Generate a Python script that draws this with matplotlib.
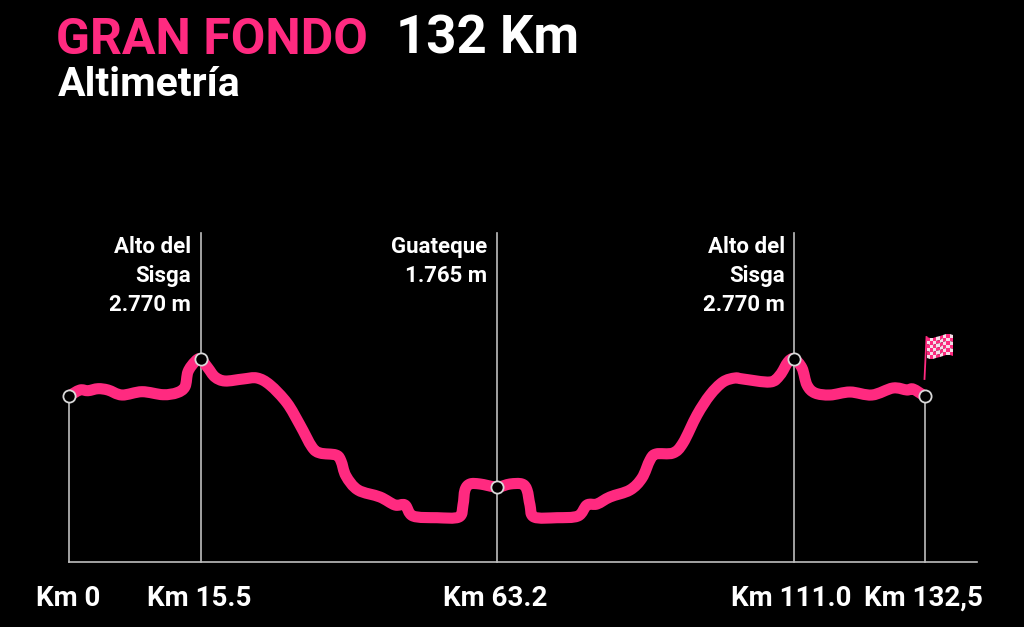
import numpy as np
import matplotlib
matplotlib.use("Agg")
import matplotlib.pyplot as plt
from matplotlib.path import Path
from matplotlib.patches import PathPatch
from matplotlib.colors import ListedColormap

# Profile (schematic horizontal position, vertical picture rows)
profile_x = [69, 80, 88, 98, 108, 122, 142, 163, 177, 185, 188, 195, 200.5, 208, 215, 225, 243, 257, 270, 287, 300,
             312, 320, 336, 341, 346, 358, 380, 395, 405, 413, 437, 459, 463, 465, 470, 480, 497, 510, 522, 527, 530,
             534, 557, 578, 587, 597, 610, 630, 642, 650, 656, 673, 683, 697, 710, 723, 735, 743, 770, 780, 788, 794,
             802, 807, 815, 830, 850, 872, 893, 907, 913, 924.5]
profile_y = [396, 390, 390.7, 388.7, 390, 395, 391.7, 394.7, 392.7, 386.7, 371.7, 361.7, 359, 368, 377, 381, 379, 378,
             385, 403, 425, 447, 453, 455, 461, 476, 490, 497, 505, 505, 516, 517.7, 517, 505, 490, 484, 484, 487, 484,
             484, 490, 505, 517, 517.7, 516, 505, 504, 497, 490, 478, 460, 454, 453, 443, 415, 395, 382, 378, 379, 382,
             375, 362, 359, 368, 385, 393, 395, 392, 395, 388, 390, 389, 396]

marker_x = [69, 200.5, 497, 794, 924.5]
marker_y = [396, 359, 487, 359, 396]
tick_labels = ["Km 0", "Km 15.5", "Km 63.2", "Km 111.0", "Km 132,5"]
tick_label_x = [68, 199, 495, 791, 923]
pass_x = [191, 487, 785]
pass_labels = [["Alto del", "Sisga", "2.770 m"], ["Guateque", "1.765 m"], ["Alto del", "Sisga", "2.770 m"]]
label_rows = [253, 282, 311]

PINK = "#FF2A80"
GREY = "#BEBEBE"
FONT = "Roboto"

fig = plt.figure(figsize=(10.24, 6.27), dpi=100, facecolor="black")
ax = fig.add_axes([0, 0, 1, 1], facecolor="black")
ax.set_xlim(0, 1024)
ax.set_ylim(627, 0)
ax.axis("off")

# guide lines
base = 562
top = 233
ax.plot([69, 977], [base, base], color=GREY, lw=1.2, zorder=1)
for x, y in zip(marker_x, marker_y):
    y0 = top if y != 396 else y
    ax.plot([x, x], [y0, base], color=GREY, lw=1.2, zorder=1)

# smooth profile through the traced points
P = np.column_stack([profile_x, profile_y])
verts = [P[0]]
codes = [Path.MOVETO]
for i in range(len(P) - 1):
    p0 = P[max(i - 1, 0)]
    p1, p2 = P[i], P[i + 1]
    p3 = P[min(i + 2, len(P) - 1)]
    verts += [p1 + (p2 - p0) / 6, p2 - (p3 - p1) / 6, p2]
    codes += [Path.CURVE4] * 3
ax.add_patch(PathPatch(Path(verts, codes), fc="none", ec=PINK, lw=8, capstyle="round",
                       joinstyle="round", zorder=2))

ax.plot(marker_x, marker_y, ls="none", marker="o", ms=8.8, mfc="black", mec="#D8D8D8", mew=1.3, zorder=3)

# finish flag
ax.plot([924.5, 926.5], [379, 337], color=PINK, lw=1.3, zorder=2)
n_x, n_y = 8, 6
u, v = np.meshgrid(np.linspace(0, 1, n_x + 1), np.linspace(0, 1, n_y + 1))
fx = 926.5 + 26.5 * u
fy = 337 - 2 * u + 21 * v + 1.2 * np.sin(u * 6.28)
check = (np.indices((n_y, n_x)).sum(axis=0) % 2).astype(float)
ax.pcolormesh(fx, fy, check, cmap=ListedColormap([PINK, "#F7DDE8"]), zorder=2, antialiased=True)

# titles
ax.text(56, 54, "GRAN FONDO", color=PINK, fontsize=36, fontweight="bold", family=FONT, va="baseline", ha="left")
ax.text(396, 54, "132 Km", color="white", fontsize=38, fontweight="bold", family=FONT, va="baseline", ha="left")
ax.text(58, 96, "Altimetría", color="white", fontsize=29.5, fontweight="bold", family=FONT, va="baseline", ha="left")

# pass labels
for x, lines in zip(pass_x, pass_labels):
    for s, y in zip(lines, label_rows):
        ax.text(x, y, s, color="white", fontsize=16, fontweight="bold", family=FONT, ha="right", va="baseline")

# km labels
for x, s in zip(tick_label_x, tick_labels):
    ax.text(x, 606, s, color="white", fontsize=20, fontweight="bold", family=FONT, ha="center", va="baseline")

fig.savefig("out.png", dpi=100, facecolor="black")
